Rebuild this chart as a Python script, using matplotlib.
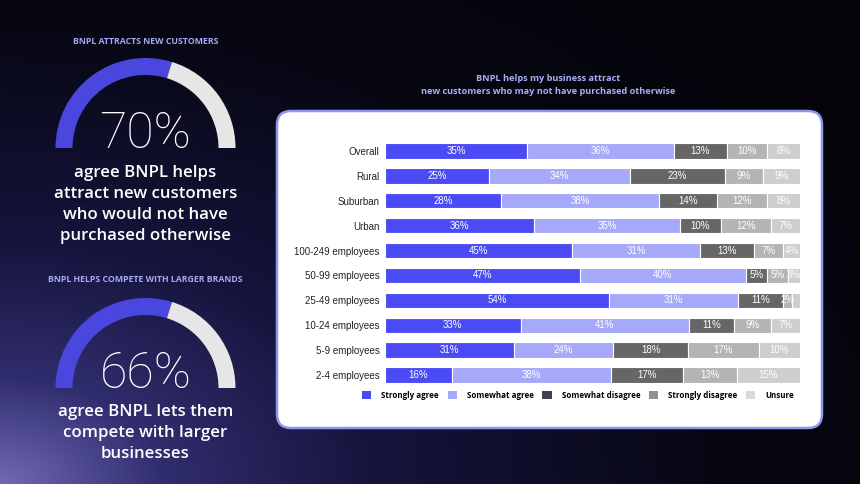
import numpy as np
import matplotlib
matplotlib.use("Agg")
import matplotlib.pyplot as plt
from matplotlib.patches import Wedge, FancyBboxPatch, Patch

# ---------------- data ----------------
categories = ["Overall", "Rural", "Suburban", "Urban", "100-249 employees",
              "50-99 employees", "25-49 employees", "10-24 employees",
              "5-9 employees", "2-4 employees"]
series_names = ["Strongly agree", "Somewhat agree", "Somewhat disagree",
                "Strongly disagree", "Unsure"]
strongly_agree    = [35, 25, 28, 36, 45, 47, 54, 33, 31, 16]
somewhat_agree    = [36, 34, 38, 35, 31, 40, 31, 41, 24, 38]
somewhat_disagree = [13, 23, 14, 10, 13, 5, 11, 11, 18, 17]
strongly_disagree = [10, 9, 12, 12, 7, 5, 2, 9, 17, 13]
unsure            = [8, 9, 8, 7, 4, 3, 2, 7, 10, 15]
hidden_labels = {("25-49 employees", "Unsure")}

gauge_titles = ["BNPL ATTRACTS NEW CUSTOMERS", "BNPL HELPS COMPETE WITH LARGER BRANDS"]
gauge_values = ["70%", "66%"]
gauge_fill_pct = [59.5, 59.5]   # filled share of the arcs as drawn
gauge_texts = ["agree BNPL helps\nattract new customers\nwho would not have\npurchased otherwise",
               "agree BNPL lets them\ncompete with larger\nbusinesses"]
chart_title = "BNPL helps my business attract\nnew customers who may not have purchased otherwise"

bar_colors = ["#4b4bf5", "#a6a9f9", "#666666", "#b4b4b4", "#cecece"]
legend_colors = ["#4b4bf5", "#a6aaf8", "#41424f", "#8e909c", "#dadada"]

W, H = 860, 484
fig = plt.figure(figsize=(W / 100, H / 100), dpi=100)

# ---------------- background ----------------
ov = fig.add_axes([0, 0, 1, 1])
ov.set_xlim(0, W)
ov.set_ylim(H, 0)
ov.axis("off")
yy, xx = np.mgrid[0:H, 0:W]
d = np.sqrt((xx / W * 1.15) ** 2 + ((H - yy) / H) ** 2)
stops = [0.0, 0.22, 0.5, 0.95, 1.4]
cols = np.array([[112, 106, 182], [48, 45, 110], [22, 20, 60], [7, 7, 20], [3, 3, 8]]) / 255.0
img = np.stack([np.interp(d, stops, cols[:, k]) for k in range(3)], axis=-1)
ov.imshow(img, extent=(0, W, H, 0), aspect="auto", zorder=0)

# ---------------- gauges ----------------
gauge_cy = [148, 388]
title_y = [42, 279]
text_y = [174, 413]
cx, R, wd = 145.5, 90, 17
for i in range(2):
    cy = gauge_cy[i]
    split = 180 * (1 - gauge_fill_pct[i] / 100.0)   # visual angle from right
    ov.add_patch(Wedge((cx, cy), R, -180, -split, width=wd, facecolor="#4a47de",
                       edgecolor="none", zorder=2))
    ov.add_patch(Wedge((cx, cy), R, -split, 0, width=wd, facecolor="#e6e6e6",
                       edgecolor="none", zorder=2))
    ov.text(cx, title_y[i], gauge_titles[i], ha="center", va="center",
            color="#a3a9f2", fontsize=6.3, fontweight="bold", family="Open Sans", zorder=3)
    ov.text(cx, cy, gauge_values[i], ha="center", va="baseline", color="white",
            fontsize=36, fontweight="light", family="Roboto", zorder=3)
    ov.text(cx, text_y[i] - 9, gauge_texts[i], ha="center", va="top", color="white",
            fontsize=12.2, fontweight="semibold", family="Open Sans",
            linespacing=1.43, zorder=3)

# ---------------- card ----------------
card = FancyBboxPatch((277 + 14, 111 + 14), 822 - 277 - 28, 428 - 111 - 28,
                      boxstyle="round,pad=14", facecolor="white", edgecolor="#8e95ee",
                      linewidth=1.8, zorder=1)
ov.add_patch(card)
ov.text(548, 85, chart_title, ha="center", va="center", color="#a9aef5",
        fontsize=6.6, fontweight="bold", family="Open Sans", linespacing=1.55, zorder=3)

# ---------------- stacked bars ----------------
row_h = 24.9
top_px = 151 - row_h / 2
bot_px = 375 + row_h / 2
ax = fig.add_axes([385 / W, 1 - bot_px / H, (800 - 385) / W, (bot_px - top_px) / H])
ax.set_facecolor("none")
data = np.array([strongly_agree, somewhat_agree, somewhat_disagree,
                 strongly_disagree, unsure], dtype=float)
totals = data.sum(axis=0)
shares = data / totals
y = np.arange(len(categories))
left = np.zeros(len(categories))
for s in range(len(series_names)):
    ax.barh(y, shares[s], left=left, height=0.62, color=bar_colors[s],
            edgecolor="white", linewidth=0.8)
    for j in range(len(categories)):
        if (categories[j], series_names[s]) in hidden_labels:
            continue
        ax.text(left[j] + shares[s][j] / 2, y[j], f"{int(data[s][j])}%", ha="center",
                va="center", color="white", fontsize=7, family="Liberation Sans")
    left += shares[s]
ax.set_xlim(0, 1)
ax.set_ylim(len(categories) - 0.5, -0.5)
ax.set_yticks(y)
ax.set_yticklabels(categories, fontsize=7, family="Liberation Sans", color="#222222")
ax.tick_params(axis="y", length=0, pad=4)
ax.set_xticks([])
for sp in ax.spines.values():
    sp.set_visible(False)

handles = [Patch(facecolor=c, edgecolor="none") for c in legend_colors]
fig.legend(handles, series_names, loc="center", bbox_to_anchor=(578 / W, 1 - 395 / H),
           ncol=5, frameon=False, handlelength=1.15, handleheight=1.15, handletextpad=1.25,
           columnspacing=1.05, prop={"family": "Open Sans", "weight": "bold", "size": 5.8})

fig.savefig("out.png", dpi=100)
